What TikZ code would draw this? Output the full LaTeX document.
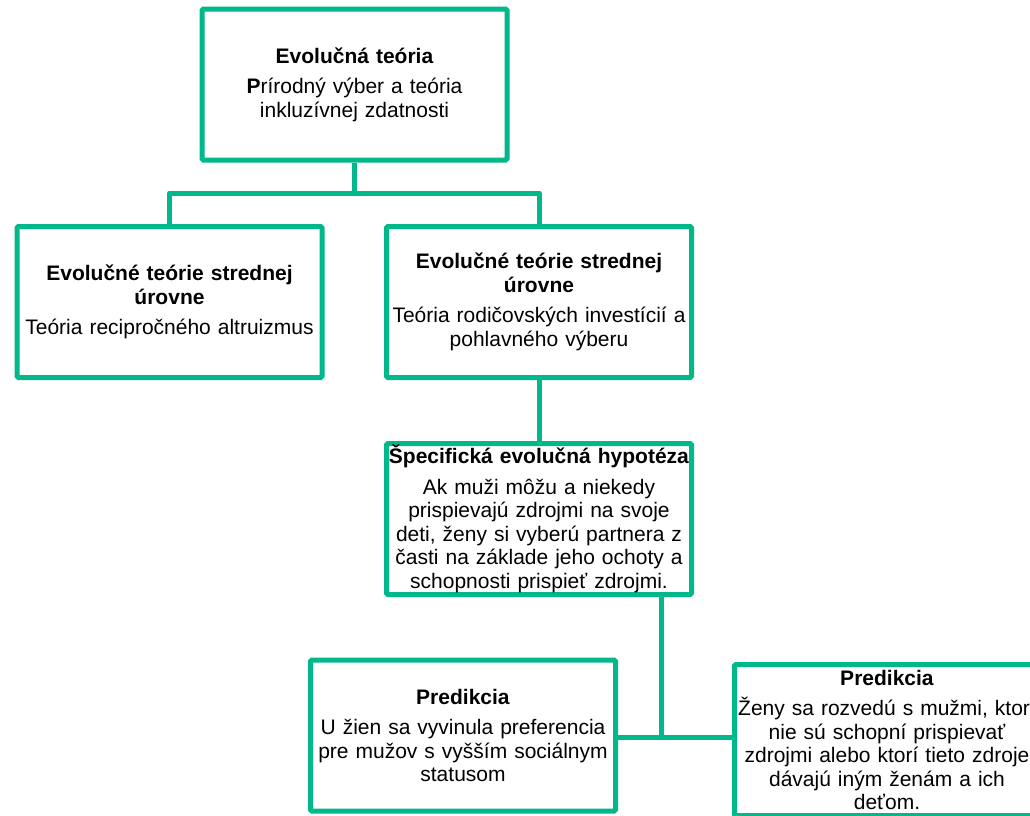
\documentclass[tikz,border=0pt]{standalone}
\usepackage{fontspec}
\setmainfont{Liberation Sans}
\definecolor{boxgreen}{RGB}{0,184,138}

\begin{document}
\begin{tikzpicture}[x=1pt, y=-1pt,
    box/.style={rectangle, rounded corners=1.5pt, draw=boxgreen, line width=5pt, fill=white,
                minimum width=305pt, minimum height=151pt, text width=304pt, inner sep=0pt,
                align=center, font=\fontsize{21pt}{23.5pt}\selectfont},
    link/.style={draw=boxgreen, line width=5pt, line join=round}
]
\clip (0,0) rectangle (1030,815);

\node[box] (evo) at (354.5,84.5) {\textbf{Evolučná teória}\\[7pt]
    \textbf{P}rírodný výber a teória\\ inkluzívnej zdatnosti};
\node[box] (mid1) at (169.5,302) {\textbf{Evolučné teórie strednej}\\ \textbf{úrovne}\\[7pt]
    Teória recipročného altruizmus};
\node[box] (mid2) at (539,302) {\textbf{Evolučné teórie strednej}\\ \textbf{úrovne}\\[7pt]
    Teória rodičovských investícií a\\ pohlavného výberu};
\node[box] (spec) at (539,519) {\mbox{\textbf{Špecifická evolučná hypotéza}}\\[7pt]
    Ak muži môžu a niekedy\\ prispievajú zdrojmi na svoje\\ deti, ženy si vyberú partnera z\\
    časti na základe jeho ochoty a\\ schopnosti prispieť zdrojmi.};
\node[box] (predL) at (463,735.5) {\textbf{Predikcia}\\[7pt]
    U žien sa vyvinula preferencia\\ pre mužov s vyšším sociálnym\\ statusom};
\node[box] (predR) at (887,740) {\textbf{Predikcia}\\[7pt]
    Ženy sa rozvedú s mužmi, ktorí\\ nie sú schopní prispievať\\ zdrojmi alebo ktorí tieto zdroje\\
    dávajú iným ženám a ich\\ deťom.};

% elbow connectors
\coordinate (fork) at (354.5,193);
\coordinate (split) at (661,737);
\draw[link] (evo.south) -- (fork);
\draw[link] (mid1.north) |- (fork) -| (mid2.north);
\draw[link] (mid2.south) -- (spec.north);
\draw[link] (spec.south -| split) -- (split);
\draw[link] (predL.east |- split) -- (predR.west |- split);
\end{tikzpicture}
\end{document}
